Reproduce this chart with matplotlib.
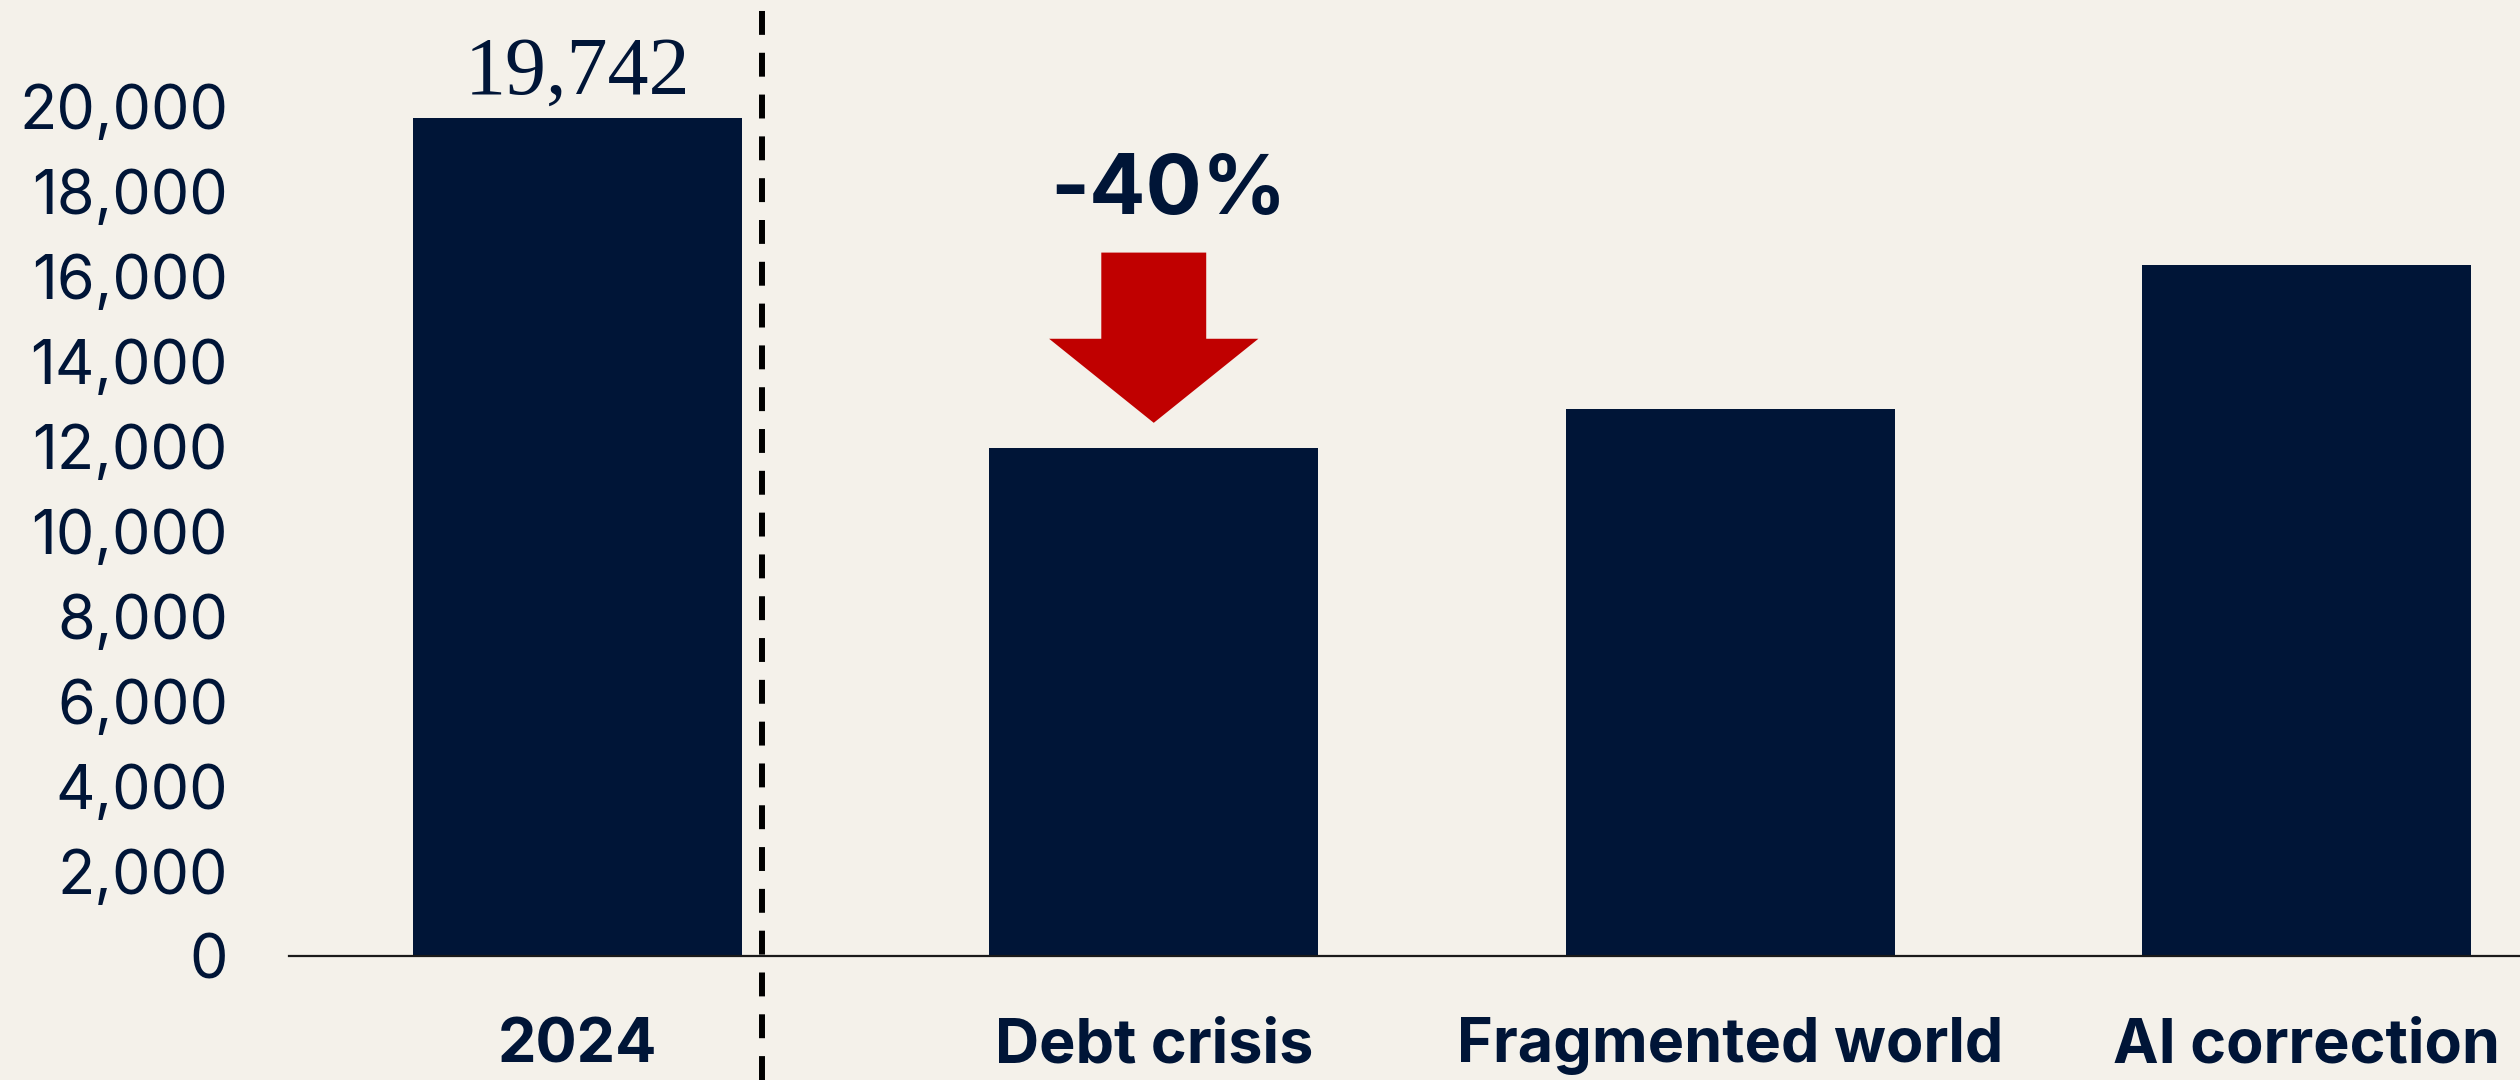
import matplotlib.pyplot as plt
import matplotlib.patches as mpatches
from matplotlib.ticker import FuncFormatter

# valeurs
categories = ["2024", "Debt crisis", "Fragmented world", "AI correction"]
values = [19742, 11970, 12890, 16280]
yticks = list(range(0, 20001, 2000))
change_label = "-40%"

navy = "#001537"
red = "#C00000"
bg = "#F4F1EA"

fig = plt.figure(figsize=(25.2, 10.8), dpi=100, facecolor=bg)
ax = fig.add_axes([0.1147, 0.1148, 0.8853, 0.8852])
ax.set_facecolor(bg)

x = range(len(categories))
ax.bar(x, values, width=0.57, color=navy, zorder=2)

ax.set_xlim(-0.5, 3.37)
ax.set_ylim(0, 22520)

# axes / ticks
for s in ["top", "left", "right"]:
    ax.spines[s].set_visible(False)
ax.spines["bottom"].set_color("#1a1a1a")
ax.spines["bottom"].set_linewidth(1.6)

ax.set_yticks(yticks)
ax.yaxis.set_major_formatter(FuncFormatter(lambda v, p: f"{int(v):,}"))
ax.tick_params(axis="y", length=0, pad=44, labelsize=44, labelcolor=navy)
for lab in ax.get_yticklabels():
    lab.set_family("Inter")

ax.set_xticks(list(x))
ax.set_xticklabels(categories, family="Inter", fontweight="bold", fontsize=44, color=navy)
ax.tick_params(axis="x", length=0, pad=44)

# ligne pointillée de séparation
ax.axvline(0.32, ymin=-0.13, ymax=0.993, color="black", lw=4.3,
           dashes=(4.0, 3.0), clip_on=False, zorder=3)

# étiquette de la première barre
ax.text(0, values[0] + 150, f"{values[0]:,}", ha="center", va="bottom",
        family="Liberation Serif", fontsize=59, color=navy)

# flèche rouge et variation
arrow_top = values[1] + 4600
arrow_tip = values[1] + 590
ax.add_patch(mpatches.FancyArrow(1.0, arrow_top, 0, arrow_tip - arrow_top,
                                 width=0.182, head_width=0.363, head_length=1980,
                                 length_includes_head=True, color=red, lw=0, zorder=3))
ax.text(1.026, arrow_top + 500, change_label, ha="center", va="bottom",
        family="Inter", fontweight="bold", fontsize=60, color=navy)

fig.savefig("out.png", dpi=100, facecolor=bg)
